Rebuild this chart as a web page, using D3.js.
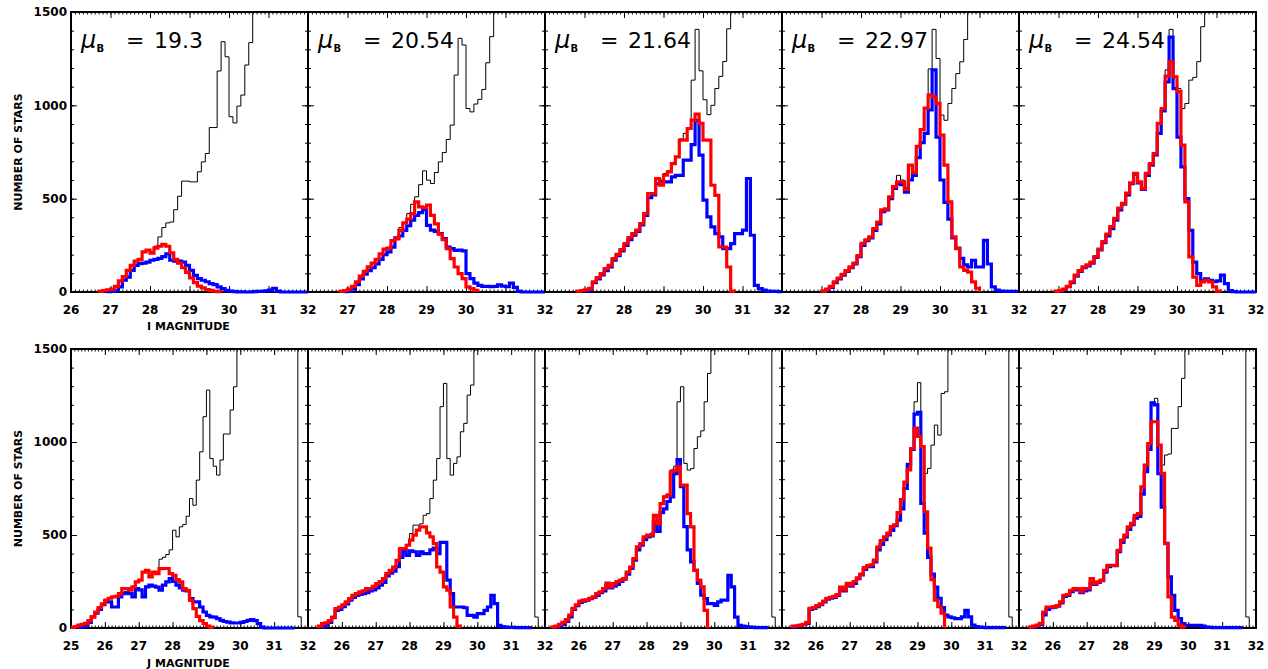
<!DOCTYPE html>
<html>
<head>
<meta charset="utf-8">
<script src="https://cdn.jsdelivr.net/npm/d3@7"></script>
<style>
  html, body { margin: 0; padding: 0; background: #ffffff; }
  svg { display: block; }
</style>
</head>
<body>
<svg id="chart" width="1268" height="669"></svg>
<script>
// ---------------------------------------------------------------
// Luminosity functions (0.1 mag bins) for five surface brightnesses.
// Black: input stars, blue: recovered stars, red: model counts.
// Each series is listed from its own starting magnitude.
// ---------------------------------------------------------------
const BIN = 0.1;
const muB = ["19.3", "20.54", "21.64", "22.97", "24.54"];
const iTickValues = [26, 27, 28, 29, 30, 31, 32];
const jTickValues = [25, 26, 27, 28, 29, 30, 31, 32];
const countTicks = [0, 500, 1000, 1500];

// ---- I band ----
const iBlackStart = [27.7, 28.0, 28.5, 28.8, 29.0];
const iBlueStart  = [26.9, 26.9, 27.0, 27.1, 27.0];
const iRedStart   = [26.7, 26.8, 26.8, 27.0, 26.9];

const iBlack1 = [175, 215, 225, 215, 245, 295, 345, 370, 375, 441, 513, 594, 594, 590, 590, 644, 697, 742, 881, 881,
  1184, 1341, 1260, 939, 906, 996, 1055, 1216, 1336, 1640, 1720, 1900, 2080, 2250, 2400, 2620, 2800, 2950, 3150, 3300,
  3500, 3650, 3800];
const iBlue1 = [2, 3, 8, 27, 63, 80, 116, 143, 152, 155, 160, 170, 175, 180, 190, 205, 170, 165, 165, 160,
  143, 116, 89, 72, 63, 55, 45, 40, 27, 18, 9, 5, 2, 1, 1, 0, 0, 2, 3, 4,
  6, 10, 20, 5, 0, 0, 0, 0, 0, 0, 0];
const iRed1 = [3, 8, 12, 15, 30, 60, 82, 116, 143, 165, 175, 215, 225, 208, 235, 245, 255, 245, 210, 175,
  155, 130, 105, 75, 50, 32, 22, 13, 9, 4, 2];

const iBlack2 = [235, 275, 290, 345, 370, 420, 470, 510, 575, 649, 599, 581, 640, 697, 747, 817, 894, 1162, 1359, 1323,
  983, 965, 1007, 1032, 1085, 1228, 1368, 1600, 1750, 1880, 2000, 2150, 2300, 2450, 2600, 2800, 2950, 3100, 3300, 3450];
const iBlue2 = [2, 5, 15, 40, 70, 95, 115, 130, 150, 175, 200, 215, 240, 290, 300, 330, 355, 385, 410, 425,
  441, 357, 331, 325, 313, 286, 241, 232, 223, 225, 220, 98, 72, 48, 36, 30, 30, 28, 30, 38,
  32, 28, 48, 25, 3, 0, 0, 0, 0, 0, 0];
const iRed2 = [3, 8, 15, 30, 55, 85, 110, 135, 155, 175, 205, 230, 235, 275, 285, 330, 370, 390, 420, 483,
  456, 452, 465, 411, 365, 310, 280, 232, 179, 134, 98, 72, 27, 18, 9];

const iBlack3 = [420, 527, 530, 610, 600, 635, 650, 690, 724, 820, 850, 880, 1135, 1407, 1185, 1030, 950, 1000, 1090, 1155,
  1235, 1410, 1620, 1750, 1900, 2050, 2200, 2380, 2550, 2700, 2900, 3050, 3250, 3400, 3600];
const iBlue3 = [5, 15, 50, 70, 92, 115, 135, 170, 195, 220, 250, 280, 305, 325, 360, 410, 505, 520, 580, 590,
  590, 590, 617, 625, 625, 706, 706, 790, 920, 733, 492, 402, 349, 313, 295, 232, 232, 259, 313, 313,
  331, 608, 304, 36, 18, 10, 5, 3, 3, 2];
const iRed3 = [3, 8, 12, 20, 55, 77, 98, 125, 143, 179, 202, 227, 259, 291, 313, 331, 367, 420, 527, 527,
  608, 572, 626, 644, 688, 724, 814, 814, 876, 921, 953, 903, 814, 814, 572, 518, 241, 241, 134, 5];

const iBlack4 = [565, 625, 600, 560, 680, 640, 780, 870, 985, 1195, 1407, 1251, 948, 920, 1010, 1090, 1170, 1233, 1353, 1560,
  1700, 1850, 2000, 2150, 2300, 2480, 2650, 2800, 2980, 3150, 3300, 3450];
const iBlue4 = [8, 25, 50, 70, 90, 110, 130, 150, 190, 250, 275, 290, 330, 365, 430, 440, 500, 555, 580, 575,
  535, 600, 625, 720, 800, 850, 975, 1190, 830, 600, 480, 390, 290, 235, 180, 145, 134, 170, 134, 134,
  277, 150, 27, 10, 5, 3, 3, 3, 3];
const iRed4 = [5, 15, 30, 55, 75, 95, 115, 135, 155, 195, 260, 280, 295, 340, 375, 440, 445, 510, 565, 590,
  590, 550, 680, 640, 780, 870, 985, 1055, 1045, 1010, 840, 680, 483, 295, 232, 134, 116, 107, 54, 20];

const iBlack5 = [590, 555, 635, 690, 745, 905, 985, 1190, 1407, 1157, 1090, 983, 1010, 1135, 1150, 1234, 1421, 1600, 1750, 1900,
  2050, 2200, 2350, 2500, 2680, 2850, 3000, 3200, 3350, 3500];
const iBlue5 = [5, 12, 28, 50, 85, 110, 130, 140, 155, 185, 225, 265, 300, 340, 385, 440, 470, 520, 580, 630,
  585, 550, 625, 680, 735, 850, 970, 1125, 1365, 1090, 830, 670, 500, 330, 160, 98, 63, 70, 63, 55,
  60, 90, 45, 8, 2, 0, 0, 0, 0, 0];
const iRed5 = [3, 8, 15, 30, 55, 90, 115, 135, 145, 160, 190, 230, 270, 310, 350, 395, 450, 475, 530, 585,
  635, 590, 554, 635, 688, 742, 903, 983, 1157, 1234, 1153, 1073, 787, 483, 188, 80, 36, 54, 63, 54,
  27, 5];

// ---- J band ----
const jBlackStart = [27.3, 27.6, 28.0, 28.4, 28.6];
const jBlueStart  = [25.2, 25.4, 25.3, 25.3, 25.4];
const jRedStart   = [25.0, 25.3, 25.2, 25.3, 25.3];

const jBlack1 = [280, 301, 300, 370, 380, 395, 420, 526, 490, 544, 556, 601, 696, 660, 795, 947, 1136, 1279, 911, 870,
  822, 903, 1043, 1043, 1172, 1297, 1560, 1700, 1850, 2000, 2200, 2350, 2500, 2700, 2850, 3000, 3200, 3350, 3500, 3700,
  3850, 4000, 4200, 4350, 60, 0, 0];
const jBlue1 = [3, 5, 15, 30, 60, 80, 100, 125, 145, 140, 113, 113, 167, 185, 190, 185, 167, 212, 205, 167,
  221, 230, 225, 220, 203, 230, 248, 266, 250, 230, 215, 203, 200, 158, 140, 140, 113, 86, 68, 60,
  59, 50, 41, 35, 32, 28, 27, 27, 30, 35, 41, 45, 40, 23, 5, 0, 0, 0, 0, 0,
  0, 0, 0, 0];
const jRed1 = [3, 8, 15, 20, 25, 40, 60, 85, 110, 130, 150, 160, 167, 170, 185, 212, 212, 203, 221, 248,
  257, 300, 310, 275, 301, 292, 319, 320, 320, 292, 283, 260, 248, 212, 203, 149, 104, 63, 40, 23,
  10, 3];

const jBlack2 = [364, 427, 430, 450, 508, 553, 553, 560, 606, 615, 696, 795, 911, 1190, 1315, 911, 822, 885, 920, 1055,
  1100, 1252, 1306, 1495, 1650, 1800, 1950, 2100, 2250, 2400, 2550, 2700, 2850, 3000, 3150, 3300, 3450, 3600, 3750, 3900,
  4050, 59, 0, 0];
const jBlue2 = [5, 15, 30, 55, 95, 100, 115, 130, 150, 165, 175, 180, 185, 190, 200, 205, 215, 230, 245, 280,
  295, 305, 330, 380, 420, 390, 415, 410, 390, 410, 400, 400, 420, 430, 400, 460, 460, 257, 185, 113,
  113, 113, 109, 68, 68, 59, 77, 77, 95, 113, 176, 131, 14, 8, 5, 3, 3, 2, 2, 2,
  2, 2];
const jRed2 = [10, 23, 28, 40, 59, 104, 113, 125, 140, 158, 176, 185, 194, 200, 212, 212, 224, 239, 250, 266,
  292, 310, 328, 364, 427, 427, 445, 472, 499, 526, 544, 544, 511, 490, 454, 328, 300, 221, 203, 113,
  59, 10];

const jBlack3 = [499, 510, 610, 575, 670, 710, 720, 850, 870, 1216, 1297, 885, 849, 857, 965, 1028, 1060, 1216, 1369, 1495,
  1650, 1800, 1950, 2100, 2300, 2450, 2600, 2800, 2950, 3100, 3250, 3400, 3550, 3700, 3850, 4000, 4150, 59, 0, 0];
const jBlue3 = [3, 10, 20, 35, 60, 100, 120, 138, 145, 150, 158, 165, 175, 190, 200, 230, 215, 225, 235, 250,
  262, 290, 320, 365, 420, 445, 475, 490, 495, 570, 520, 620, 640, 680, 705, 830, 905, 760, 545, 420,
  355, 310, 240, 176, 158, 131, 131, 122, 140, 150, 150, 283, 221, 59, 14, 10, 8, 5, 3, 2,
  2, 2, 2];
const jRed3 = [5, 10, 20, 30, 45, 70, 105, 125, 145, 150, 150, 160, 167, 185, 195, 212, 242, 221, 239, 250,
  257, 266, 300, 328, 373, 436, 454, 490, 499, 499, 606, 560, 669, 705, 714, 840, 849, 867, 768, 768,
  615, 544, 310, 257, 221, 95];

const jBlack4 = [620, 690, 785, 880, 970, 1216, 1319, 975, 831, 858, 983, 1091, 1037, 1261, 1270, 1495, 1650, 1800, 1950, 2100,
  2250, 2400, 2550, 2700, 2850, 3000, 3150, 3300, 3450, 3600, 3750, 3900, 4050, 59, 0, 0];
const jBlue4 = [5, 8, 12, 18, 25, 100, 105, 115, 125, 140, 155, 160, 165, 175, 210, 200, 230, 225, 240, 265,
  285, 315, 330, 330, 355, 420, 450, 475, 500, 525, 550, 580, 640, 750, 880, 960, 1150, 1160, 670, 510,
  380, 290, 220, 160, 110, 70, 60, 55, 50, 50, 60, 95, 60, 15, 8, 5, 3, 2, 2, 2,
  2, 2, 2];
const jRed4 = [10, 12, 15, 20, 30, 105, 110, 120, 130, 145, 160, 165, 170, 180, 220, 205, 240, 230, 250, 270,
  290, 325, 335, 340, 365, 435, 470, 490, 510, 545, 555, 620, 690, 785, 850, 965, 1075, 1030, 975, 625,
  430, 260, 150, 115, 80];

const jBlack5 = [760, 876, 992, 1215, 1235, 983, 876, 930, 935, 1073, 1073, 1190, 1342, 1560, 1700, 1850, 2000, 2150, 2300, 2450,
  2600, 2750, 2900, 3050, 3200, 3350, 3500, 3650, 3800, 3950, 4100, 59, 0, 0];
const jBlue5 = [5, 10, 20, 70, 100, 110, 112, 118, 135, 170, 175, 195, 205, 205, 190, 200, 205, 240, 235, 245,
  255, 300, 330, 335, 335, 410, 460, 490, 530, 555, 590, 600, 720, 840, 960, 1210, 1200, 830, 650, 455,
  275, 175, 95, 50, 23, 14, 14, 12, 14, 14, 10, 5, 3, 2, 2, 2, 2, 2, 2, 2,
  2, 2];
const jRed5 = [5, 10, 15, 25, 86, 113, 113, 115, 120, 140, 176, 180, 203, 212, 212, 195, 212, 212, 266, 239,
  248, 257, 310, 337, 337, 337, 418, 472, 499, 544, 562, 606, 615, 759, 876, 992, 1109, 1109, 983, 831,
  454, 167, 59, 41, 15, 5];

const iBlack = [iBlack1, iBlack2, iBlack3, iBlack4, iBlack5];
const iBlue  = [iBlue1, iBlue2, iBlue3, iBlue4, iBlue5];
const iRed   = [iRed1, iRed2, iRed3, iRed4, iRed5];
const jBlack = [jBlack1, jBlack2, jBlack3, jBlack4, jBlack5];
const jBlue  = [jBlue1, jBlue2, jBlue3, jBlue4, jBlue5];
const jRed   = [jRed1, jRed2, jRed3, jRed4, jRed5];

// ---------------------------------------------------------------
// Layout
// ---------------------------------------------------------------
const svg = d3.select("#chart");
const FIRST_LEFT = 71, PANEL_W = 237;
const NUM_FONT = "'DejaVu Sans', 'Liberation Sans', sans-serif";

const rows = [
  { top: 12,  bottom: 292, domain: [26, 32], ticks: iTickValues, axisTitle: "I MAGNITUDE",
    black: iBlack, blue: iBlue, red: iRed, blackStart: iBlackStart, blueStart: iBlueStart, redStart: iRedStart, titles: true },
  { top: 349, bottom: 628, domain: [25, 32], ticks: jTickValues, axisTitle: "J MAGNITUDE",
    black: jBlack, blue: jBlue, red: jRed, blackStart: jBlackStart, blueStart: jBlueStart, redStart: jRedStart, titles: false }
];

// Histogram outline drawn as steps over 0.1-mag bins
function stepPath(x, y, start, values, fromZero, toZero) {
  const p = d3.path();
  const x0 = x(start);
  if (fromZero) { p.moveTo(x0, y(0)); p.lineTo(x0, y(values[0])); }
  else p.moveTo(x0, y(values[0]));
  values.forEach((v, k) => {
    if (k > 0) p.lineTo(x(start + k * BIN), y(v));
    p.lineTo(x(start + (k + 1) * BIN), y(v));
  });
  if (toZero) p.lineTo(x(start + values.length * BIN), y(0));
  return p.toString();
}

function minorRange(a, b, step) {
  const out = [];
  const n = Math.round((b - a) / step);
  for (let k = 0; k <= n; k++) out.push(+(a + k * step).toFixed(4));
  return out;
}

const defs = svg.append("defs");

rows.forEach((row, r) => {
  const y = d3.scaleLinear().domain([0, 1500]).range([row.bottom, row.top]);

  for (let p = 0; p < 5; p++) {
    const left = FIRST_LEFT + p * PANEL_W;
    const right = left + PANEL_W;
    const x = d3.scaleLinear().domain(row.domain).range([left, right]);
    const g = svg.append("g").attr("class", "panel");

    // inward tick marks on all four sides
    const xMinor = minorRange(row.domain[0], row.domain[1], 0.1);
    const yMinor = minorRange(0, 1500, 100);
    const clean = sel => { sel.select(".domain").remove(); sel.selectAll("text").remove(); };

    g.append("g").attr("transform", `translate(0,${row.bottom})`)
      .call(d3.axisBottom(x).tickValues(xMinor).tickSize(-2.5).tickFormat("")).call(clean);
    g.append("g").attr("transform", `translate(0,${row.bottom})`)
      .call(d3.axisBottom(x).tickValues(row.ticks).tickSize(-6).tickFormat("")).call(clean);
    g.append("g").attr("transform", `translate(0,${row.top})`)
      .call(d3.axisTop(x).tickValues(xMinor).tickSize(-2.5).tickFormat("")).call(clean);
    g.append("g").attr("transform", `translate(0,${row.top})`)
      .call(d3.axisTop(x).tickValues(row.ticks).tickSize(-6).tickFormat("")).call(clean);
    g.append("g").attr("transform", `translate(${left},0)`)
      .call(d3.axisLeft(y).tickValues(yMinor).tickSize(-3).tickFormat("")).call(clean);
    g.append("g").attr("transform", `translate(${left},0)`)
      .call(d3.axisLeft(y).tickValues(countTicks).tickSize(-6).tickFormat("")).call(clean);
    g.append("g").attr("transform", `translate(${right},0)`)
      .call(d3.axisRight(y).tickValues(yMinor).tickSize(-3).tickFormat("")).call(clean);
    g.append("g").attr("transform", `translate(${right},0)`)
      .call(d3.axisRight(y).tickValues(countTicks).tickSize(-6).tickFormat("")).call(clean);
    g.selectAll(".tick line").attr("stroke", "#000").attr("stroke-width", 1);

    // frame
    g.append("rect")
      .attr("x", left).attr("y", row.top)
      .attr("width", PANEL_W).attr("height", row.bottom - row.top)
      .attr("fill", "none").attr("stroke", "#000").attr("stroke-width", 2);

    // x tick labels (the shared boundary label belongs to the panel on the left)
    const labels = p === 0 ? row.ticks : row.ticks.slice(1);
    g.selectAll("text.xlab").data(labels).join("text")
      .attr("class", "xlab")
      .attr("x", d => x(d)).attr("y", row.bottom + 22)
      .attr("text-anchor", "middle")
      .attr("font-family", NUM_FONT).attr("font-weight", "bold").attr("font-size", 12)
      .text(d => d);

    if (p === 0) {
      g.selectAll("text.ylab").data(countTicks).join("text")
        .attr("class", "ylab")
        .attr("x", left - 4).attr("y", d => y(d) + 4.4)
        .attr("text-anchor", "end")
        .attr("font-family", NUM_FONT).attr("font-weight", "bold").attr("font-size", 12)
        .text(d => d);
    }

    // histograms, clipped to the panel
    const clipId = `clip-${r}-${p}`;
    defs.append("clipPath").attr("id", clipId).append("rect")
      .attr("x", left).attr("y", row.top)
      .attr("width", PANEL_W).attr("height", row.bottom - row.top + 2.5);
    const plot = g.append("g").attr("clip-path", `url(#${clipId})`);

    plot.append("path")
      .attr("d", stepPath(x, y, row.blackStart[p], row.black[p], false, false))
      .attr("fill", "none").attr("stroke", "#000").attr("stroke-width", 1);
    plot.append("path")
      .attr("d", stepPath(x, y, row.blueStart[p], row.blue[p], true, false))
      .attr("fill", "none").attr("stroke", "#0000ff").attr("stroke-width", 3.2)
      .attr("stroke-linejoin", "miter");
    plot.append("path")
      .attr("d", stepPath(x, y, row.redStart[p], row.red[p], true, true))
      .attr("fill", "none").attr("stroke", "#ff0000").attr("stroke-width", 3.2)
      .attr("stroke-linejoin", "miter");

    // surface-brightness label
    if (row.titles) {
      const t = g.append("g").attr("font-family", NUM_FONT).attr("fill", "#000");
      t.append("text").attr("x", left + 10).attr("y", 48)
        .attr("font-size", 24).attr("font-style", "italic").text("μ");
      t.append("text").attr("x", left + 25.5).attr("y", 52)
        .attr("font-size", 10).attr("font-weight", "bold").text("B");
      t.append("text").attr("x", left + 55).attr("y", 48)
        .attr("font-size", 22).text("=");
      t.append("text").attr("x", left + 83).attr("y", 48)
        .attr("font-size", 22).text(muB[p]);
    }
  }

  // axis titles
  const midY = (row.top + row.bottom) / 2;
  svg.append("text")
    .attr("transform", `translate(22,${midY}) rotate(-90)`)
    .attr("text-anchor", "middle")
    .attr("font-family", NUM_FONT).attr("font-weight", "bold").attr("font-size", 11)
    .text("NUMBER OF STARS");
  svg.append("text")
    .attr("x", 188.5).attr("y", row.bottom + (r === 0 ? 38 : 39))
    .attr("text-anchor", "middle")
    .attr("font-family", NUM_FONT).attr("font-weight", "bold").attr("font-size", 11)
    .text(row.axisTitle);
});
</script>
</body>
</html>
